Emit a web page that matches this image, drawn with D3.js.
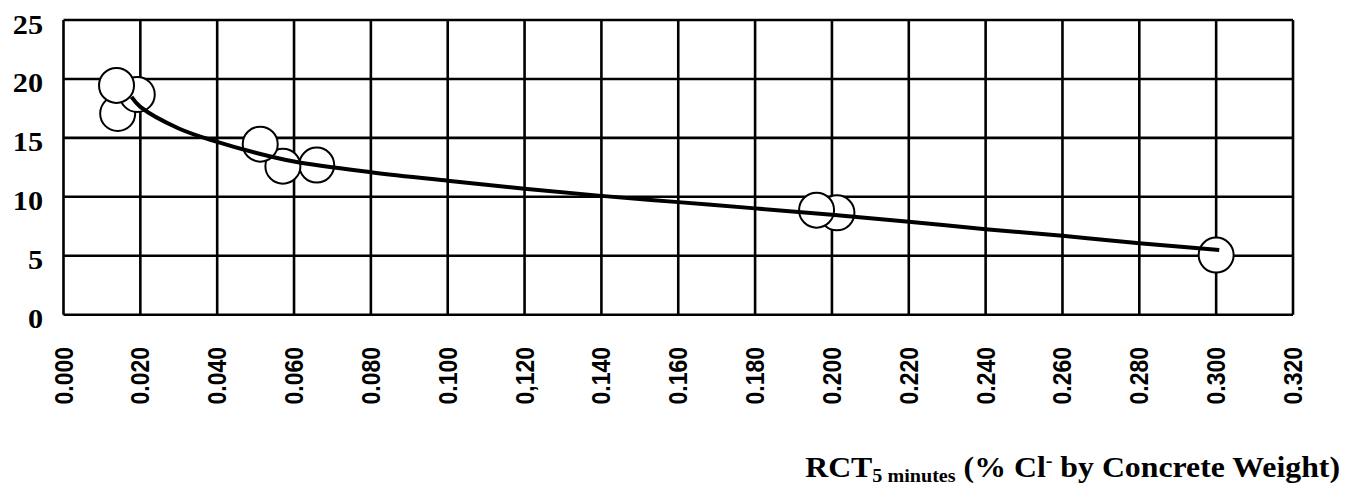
<!DOCTYPE html>
<html>
<head>
<meta charset="utf-8">
<script src="https://cdn.jsdelivr.net/npm/d3@7"></script>
<style>
  html, body { margin: 0; padding: 0; background: #fff; }
  svg { display: block; }
</style>
</head>
<body>
<svg id="chart" width="1352" height="491"></svg>
<script>
// Measured points (in drawing order: later points sit on top)
const pointX = [0.0141, 0.0192, 0.0138, 0.0659, 0.0571, 0.0512, 0.2013, 0.1960, 0.3000];
const pointY = [17.07, 18.68, 19.45, 12.69, 12.60, 14.47, 8.64, 8.87, 5.06];

// Trend line read along its length
const trendX = [0.0177, 0.020, 0.030, 0.040, 0.050, 0.060, 0.080, 0.100, 0.120, 0.140, 0.160, 0.180, 0.200, 0.220, 0.240, 0.260, 0.280, 0.3008];
const trendY = [18.47, 17.63, 15.80, 14.66, 13.74, 13.00, 12.09, 11.36, 10.68, 10.08, 9.55, 9.02, 8.47, 7.89, 7.25, 6.69, 6.07, 5.48];

// Axis ticks and their printed labels
const xTicks = [0, 0.02, 0.04, 0.06, 0.08, 0.10, 0.12, 0.14, 0.16, 0.18, 0.20, 0.22, 0.24, 0.26, 0.28, 0.30, 0.32];
const xTickLabels = ["0.000", "0.020", "0.040", "0.060", "0.080", "0.100", "0,120", "0.140", "0.160", "0.180", "0.200", "0.220", "0.240", "0.260", "0.280", "0.300", "0.320"];
const yTicks = [0, 5, 10, 15, 20, 25];

const svg = d3.select("#chart");
const plotLeft = 63.5, plotRight = 1293, plotTop = 20, plotBottom = 314.7;

const x = d3.scaleLinear().domain([0, 0.32]).range([plotLeft, plotRight]);
const y = d3.scaleLinear().domain([0, 25]).range([plotBottom, plotTop]);

// Grid
const grid = svg.append("g").attr("stroke", "#000").attr("stroke-width", 2.6);
grid.selectAll("line.v").data(xTicks).join("line")
  .attr("class", "v")
  .attr("x1", d => x(d)).attr("x2", d => x(d))
  .attr("y1", y(0)).attr("y2", y(25));
grid.selectAll("line.h").data(yTicks).join("line")
  .attr("class", "h")
  .attr("x1", x(0)).attr("x2", x(0.32))
  .attr("y1", d => y(d)).attr("y2", d => y(d));

// Y axis labels (bold serif, slightly widened)
const yAxis = d3.axisLeft(y).tickValues(yTicks).tickSize(0).tickFormat(d3.format("d"));
const gy = svg.append("g").call(yAxis);
gy.select(".domain").remove();
gy.selectAll(".tick text")
  .attr("x", null).attr("dy", null)
  .attr("text-anchor", "end")
  .attr("font-family", "'Liberation Serif', 'Times New Roman', serif")
  .attr("font-weight", "bold")
  .attr("font-size", 27)
  .attr("fill", "#000")
  .attr("transform", "translate(43,13) scale(1.12,1)");

// X axis labels (bold sans, rotated)
const xAxis = d3.axisBottom(x).tickValues(xTicks).tickSize(0)
  .tickFormat((d, i) => xTickLabels[i]);
const gx = svg.append("g").call(xAxis);
gx.select(".domain").remove();
gx.selectAll(".tick text")
  .attr("x", null).attr("y", null).attr("dy", null)
  .attr("text-anchor", "end")
  .attr("font-family", "'Liberation Sans', Arial, sans-serif")
  .attr("font-weight", "bold")
  .attr("font-size", 23)
  .attr("fill", "#000")
  .attr("transform", "translate(8.5,347) scale(1.1,1) rotate(-90)");

// Markers
const pts = pointX.map((d, i) => ({ x: d, y: pointY[i] }));
svg.append("g").selectAll("circle").data(pts).join("circle")
  .attr("cx", d => x(d.x))
  .attr("cy", d => y(d.y))
  .attr("r", 17.5)
  .attr("fill", "#fff")
  .attr("stroke", "#000")
  .attr("stroke-width", 2);

// Trend line
const trend = trendX.map((d, i) => [d, trendY[i]]);
svg.append("path")
  .datum(trend)
  .attr("fill", "none")
  .attr("stroke", "#000")
  .attr("stroke-width", 4)
  .attr("d", d3.line().x(d => x(d[0])).y(d => y(d[1])).curve(d3.curveCatmullRom));

// Axis title
const title = svg.append("text")
  .attr("transform", "translate(1340,477) scale(1.06,1)")
  .attr("text-anchor", "end")
  .attr("font-family", "'Liberation Serif', 'Times New Roman', serif")
  .attr("font-weight", "bold")
  .attr("font-size", 30)
  .attr("fill", "#000");
title.append("tspan").text("RCT");
title.append("tspan").attr("font-size", 19).attr("dy", 5).text("5 minutes");
title.append("tspan").attr("dy", -5).text(" (% Cl");
title.append("tspan").attr("font-size", 19).attr("dy", -10).text("-");
title.append("tspan").attr("dy", 10).text(" by Concrete Weight)");
</script>
</body>
</html>
